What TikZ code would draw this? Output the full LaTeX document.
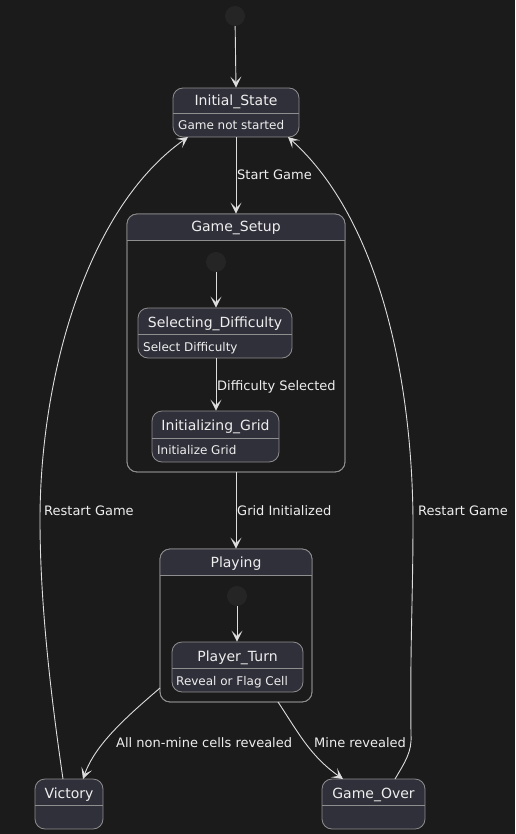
\documentclass[tikz,border=0pt]{standalone}
\usepackage{fontspec}
\setmainfont{DejaVu Sans}
\usetikzlibrary{arrows.meta}
\definecolor{bgc}{HTML}{1B1B1B}
\definecolor{sfill}{HTML}{30303A}
\definecolor{sborder}{HTML}{8E8E8E}
\definecolor{txt}{HTML}{EEEEEE}
\definecolor{arrc}{HTML}{DDDDDD}
\definecolor{startc}{HTML}{252525}
\tikzset{
  statebox/.style={draw=sborder, fill=sfill, rounded corners=10pt, line width=0.8pt, inner sep=0pt},
  compbox/.style={draw=sborder, fill=bgc, rounded corners=10pt, line width=0.8pt, inner sep=0pt},
  titletxt/.style={text=txt, font=\fontsize{14}{16}\selectfont, inner sep=0pt, anchor=base},
  desctxt/.style={text=txt, font=\fontsize{12}{14}\selectfont, inner sep=0pt, anchor=base west},
  lbltxt/.style={text=txt, font=\fontsize{13}{15}\selectfont, inner sep=0pt, anchor=base west},
  startdot/.style={circle, fill=startc, minimum size=20pt, inner sep=0pt},
  divline/.style={draw=sborder, line width=0.8pt},
  arr/.style={draw=arrc, line width=0.9pt, -{Stealth[length=11pt,width=11pt,inset=5.5pt]}},
}
\begin{document}
\begin{tikzpicture}[x=1pt,y=-1pt]
\fill[bgc] (0,0) rectangle (515,834);
\useasboundingbox (0,0) rectangle (515,834);

% start
\node[startdot] (s0) at (235,16) {};

% Initial_State
\node[statebox, minimum width=126pt, minimum height=49pt] (init) at (236,112.5) {};
\draw[divline] (173,113) -- (299,113);
\node[titletxt] (initT) at (236,106) {Initial\_State};
\node[desctxt] (initD) at (178,129.5) {Game not started};

% Game_Setup composite
\node[compbox, minimum width=218pt, minimum height=258pt] (gs) at (236,343) {};
\begin{scope}
  \clip[rounded corners=10pt] (127,214) rectangle (345,472);
  \fill[sfill] (127,214) rectangle (345,240);
\end{scope}
\draw[draw=sborder, line width=0.8pt, rounded corners=10pt] (127,214) rectangle (345,472);
\draw[divline] (127,240) -- (345,240);
\node[titletxt] (gsT) at (236,232) {Game\_Setup};

\node[startdot] (s1) at (216,262) {};

\node[statebox, minimum width=154pt, minimum height=50pt] (sel) at (215,333) {};
\draw[divline] (138,334) -- (292,334);
\node[titletxt] (selT) at (215,327) {Selecting\_Difficulty};
\node[desctxt] (selD) at (143,351.5) {Select Difficulty};

\node[statebox, minimum width=127pt, minimum height=51pt] (ig) at (215.5,436.5) {};
\draw[divline] (152,438) -- (279,438);
\node[titletxt] (igT) at (215.5,430) {Initializing\_Grid};
\node[desctxt] (igD) at (157,454.5) {Initialize Grid};

% Playing composite
\node[compbox, minimum width=152pt, minimum height=153pt] (pl) at (236,625.5) {};
\begin{scope}
  \clip[rounded corners=10pt] (160,549) rectangle (312,702);
  \fill[sfill] (160,549) rectangle (312,575);
\end{scope}
\draw[draw=sborder, line width=0.8pt, rounded corners=10pt] (160,549) rectangle (312,702);
\draw[divline] (160,575) -- (312,575);
\node[titletxt] (plT) at (236,567) {Playing};

\node[startdot] (s2) at (237,596) {};

\node[statebox, minimum width=131pt, minimum height=50pt] (pt) at (237.5,667) {};
\draw[divline] (172,668) -- (303,668);
\node[titletxt] (ptT) at (237.5,661) {Player\_Turn};
\node[desctxt] (ptD) at (176,685) {Reveal or Flag Cell};

% Victory
\node[statebox, minimum width=68pt, minimum height=50pt] (vic) at (69,804) {};
\draw[divline] (35,805) -- (103,805);
\node[titletxt] (vicT) at (69,798) {Victory};

% Game_Over
\node[statebox, minimum width=103pt, minimum height=50pt] (go) at (373.5,804) {};
\draw[divline] (322,805) -- (425,805);
\node[titletxt] (goT) at (373.5,798) {Game\_Over};

% edges
\draw[arr] (s0) -- (init.north);
\draw[arr] (init.south) -- (gs.north);
\node[lbltxt] (l1) at (237,180) {Start Game};
\draw[arr] (s1) -- (sel.north -| s1);
\draw[arr] (sel.south -| s1) -- (ig.north -| s1);
\node[lbltxt] (l2) at (217,390) {Difficulty Selected};
\draw[arr] (gs.south) -- (pl.north);
\node[lbltxt] (l3) at (237,515) {Grid Initialized};
\draw[arr] (s2) -- (pt.north -| s2);

\coordinate (plL) at (160,688);
\coordinate (plR) at (278,702);
\coordinate (vicTop) at (83,779);
\coordinate (goTop) at (343,779);
\draw[arr] (plL) .. controls (125,718) and (95,745) .. (vicTop);
\draw[arr] (plR) .. controls (298,732) and (310,756) .. (goTop);
\node[lbltxt] (l4) at (116,747) {All non-mine cells revealed};
\node[lbltxt] (l5) at (314,747) {Mine revealed};

\coordinate (vicUp) at (63,779);
\coordinate (initBL) at (188,137);
\draw[arr] (vicUp) .. controls (50,690) and (40,600) .. (40,520)
  .. controls (40,380) and (85,210) .. (initBL);
\node[lbltxt] (l6) at (44,515) {Restart Game};

\coordinate (goUp) at (395,779);
\coordinate (initBR) at (288,137);
\draw[arr] (goUp) .. controls (405,762) and (412,752) .. (411,735)
  .. controls (410,640) and (413,600) .. (413,520)
  .. controls (412,380) and (380,220) .. (initBR);
\node[lbltxt] (l7) at (418,515) {Restart Game};
\end{tikzpicture}
\end{document}
